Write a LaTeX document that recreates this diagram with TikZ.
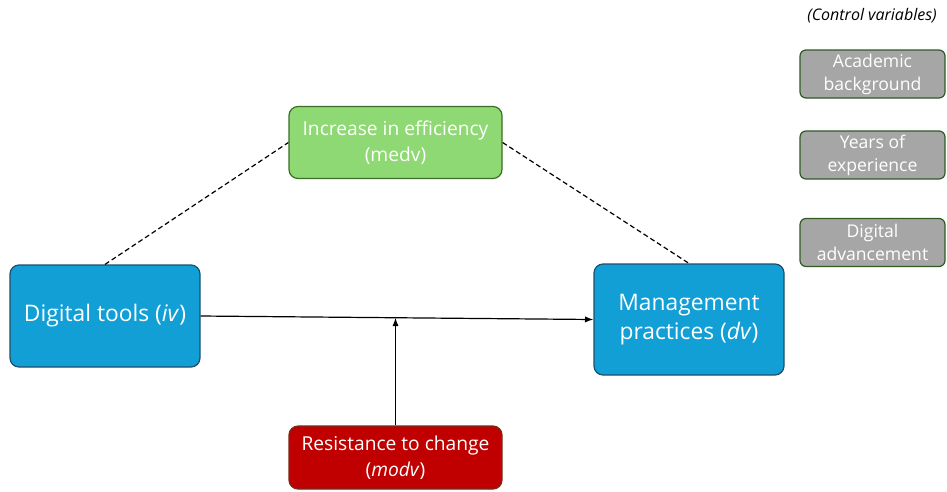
\documentclass[tikz,border=0pt]{standalone}
\usepackage{fontspec}
\setmainfont{Open Sans}
\usetikzlibrary{arrows.meta,positioning}

\definecolor{toolblue}{HTML}{129FD6}
\definecolor{toolline}{HTML}{1D4E6B}
\definecolor{effgreen}{HTML}{8ED973}
\definecolor{effline}{HTML}{3B6E25}
\definecolor{resred}{HTML}{C00000}
\definecolor{resline}{HTML}{7A2A18}
\definecolor{ctrlgray}{HTML}{A6A6A6}
\definecolor{ctrlline}{HTML}{2F5A22}

\begin{document}
\begin{tikzpicture}[x=1pt,y=-1pt,>=Latex,
  varbox/.style={draw,rounded corners=9pt,line width=1.2pt,align=center,
    text=white,inner sep=0pt},
  mainvar/.style={varbox,fill=toolblue,draw=toolline,minimum width=190pt,
    font=\fontsize{22.8}{29}\selectfont},
  sidevar/.style={varbox,minimum width=213pt,minimum height=72pt,
    font=\fontsize{19.2}{26}\selectfont},
  ctrlvar/.style={varbox,fill=ctrlgray,draw=ctrlline,rounded corners=6pt,
    minimum width=145pt,minimum height=48pt,font=\fontsize{17.6}{23}\selectfont},
  link/.style={line width=1.2pt},
  path/.style={link,dashed,dash pattern=on 5pt off 3pt}]
  \useasboundingbox (0,0) rectangle (947,491);

  % main variables
  \node[mainvar,minimum height=102pt] (tools) at (105,316)
    {Digital tools (\textit{iv})};
  \node[mainvar,minimum height=111pt] (mgmt) at (689,319.5)
    {Management\\practices (\textit{dv})};

  % mediator and moderator
  \node[sidevar,fill=effgreen,draw=effline] (eff) at (395.5,142.5)
    {Increase in efficiency\\(medv)};
  \node[sidevar,fill=resred,draw=resline,minimum height=63pt] (res)
    at (395.5,457.5) {Resistance to change\\(\textit{modv})};

  % control variables
  \node[font=\fontsize{16}{19}\selectfont\itshape] (ctrl) at (872,16)
    {(Control variables)};
  \node[ctrlvar] (acad) at (872.5,74) {Academic\\background};
  \node[ctrlvar] (years) at (872.5,155) {Years of\\experience};
  \node[ctrlvar] (adv) at (872.5,242.5) {Digital\\advancement};

  % connectors
  \draw[link,->] (tools.east) -- (mgmt.west) coordinate[pos=0.5] (hit);
  \draw[link,->] (res.north) -- (res.north |- hit);
  \draw[path] (tools.north) -- (eff.west);
  \draw[path] (eff.east) -- (mgmt.north);
\end{tikzpicture}
\end{document}
